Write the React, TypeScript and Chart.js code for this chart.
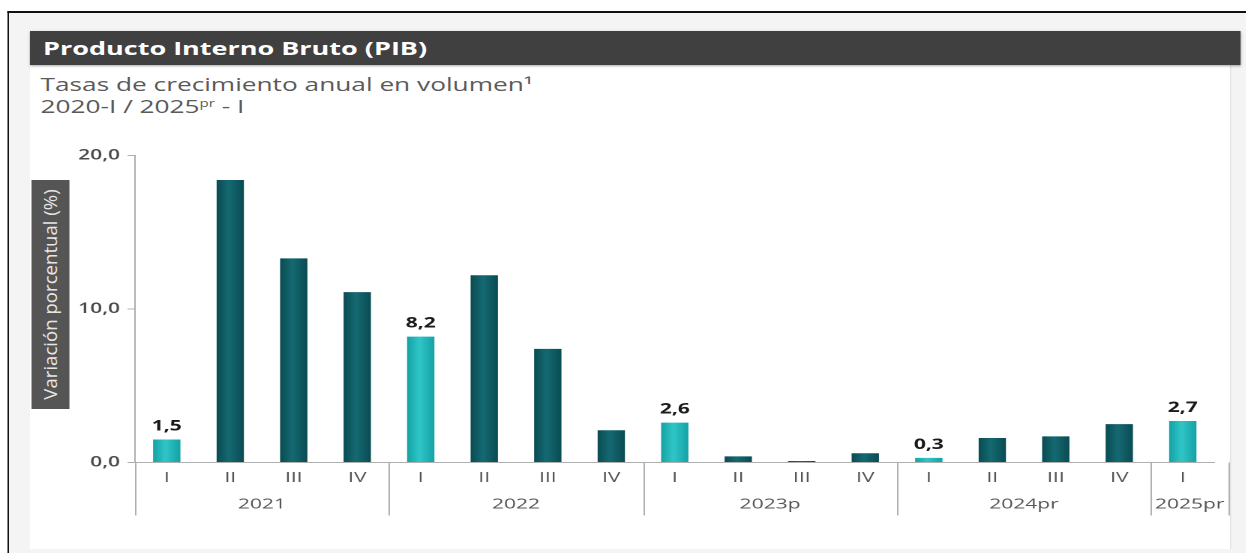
import React, { useEffect, useRef } from "react";
import { Chart, registerables } from "chart.js";

Chart.register(...registerables);

// ---- data ----
const quarters = ["I", "II", "III", "IV", "I", "II", "III", "IV", "I", "II", "III", "IV", "I", "II", "III", "IV", "I"];
const years = ["2021", "2022", "2023p", "2024pr", "2025pr"];
const yearSpans = [4, 4, 4, 4, 1];
const values = [1.5, 18.4, 13.3, 11.1, 8.2, 12.2, 7.4, 2.1, 2.6, 0.4, 0.1, 0.6, 0.3, 1.6, 1.7, 2.5, 2.7];
const labeledIdx = [0, 4, 8, 12, 16];
const yTicks = [0, 10, 20];

const title = "Producto Interno Bruto (PIB)";
const subtitle1 = "Tasas de crecimiento anual en volumen\u00B9";
const yTitle = "Variación porcentual (%)";

// ---- style ----
const S = 1.5; // horizontal stretch of the reference picture
const W = 1246 / S;
const BAR_PCT = 0.43;
const DARK = ["#0a4b52", "#156a72"];
const LIGHT = ["#14a2a5", "#30c6c8"];
const FONT = "'Open Sans', 'Noto Sans', sans-serif";

const fmt = (v: number) => v.toFixed(1).replace(".", ",");

const groupPlugin = {
  id: "groups",
  afterDraw(chart: any) {
    const { ctx, chartArea } = chart;
    const step = (chartArea.right - chartArea.left) / quarters.length;
    const xs: number[] = [];
    let start = 0;
    yearSpans.forEach((n) => {
      xs.push(chartArea.left + start * step);
      start += n;
    });
    xs.push(chart.width - 1);
    ctx.save();
    ctx.strokeStyle = "#b0b0b0";
    ctx.lineWidth = 1;
    xs.forEach((px) => {
      const x = Math.round(px) + 0.5;
      ctx.beginPath();
      ctx.moveTo(x, chartArea.bottom);
      ctx.lineTo(x, chartArea.bottom + 53);
      ctx.stroke();
    });
    ctx.fillStyle = "#555555";
    ctx.font = `14px ${FONT}`;
    ctx.textAlign = "center";
    ctx.textBaseline = "middle";
    years.forEach((y, gi) => ctx.fillText(y, (xs[gi] + xs[gi + 1]) / 2, chartArea.bottom + 42));

    const meta = chart.getDatasetMeta(0);
    ctx.font = `bold 14px ${FONT}`;
    ctx.fillStyle = "#1a1a1a";
    ctx.textBaseline = "bottom";
    labeledIdx.forEach((i) => {
      const el = meta.data[i];
      if (el) ctx.fillText(fmt(values[i]), el.x, el.y - 6);
    });
    ctx.restore();
  },
};

function barFill(context: any) {
  const i = context.dataIndex;
  const pair = labeledIdx.includes(i) ? LIGHT : DARK;
  const chart = context.chart;
  const xs = chart.scales && chart.scales.x;
  const area = chart.chartArea;
  if (!xs || !area || typeof i !== "number") return pair[0];
  const cx = xs.getPixelForValue(i);
  const half = ((area.right - area.left) / quarters.length) * BAR_PCT * 0.5;
  const g = chart.ctx.createLinearGradient(cx - half, 0, cx + half, 0);
  g.addColorStop(0, pair[0]);
  g.addColorStop(0.45, pair[1]);
  g.addColorStop(1, pair[0]);
  return g;
}

function BarChart() {
  const ref = useRef<HTMLCanvasElement | null>(null);
  useEffect(() => {
    if (!ref.current) return;
    const chart = new Chart(ref.current, {
      type: "bar",
      data: {
        labels: quarters,
        datasets: [
          {
            data: values,
            backgroundColor: barFill,
            borderWidth: 0,
            barPercentage: BAR_PCT,
            categoryPercentage: 1,
          },
        ],
      },
      options: {
        animation: false,
        responsive: false,
        devicePixelRatio: 2,
        layout: { padding: { top: 35.5, right: 10.3, bottom: 0, left: 0 } },
        plugins: { legend: { display: false }, tooltip: { enabled: false }, title: { display: false } },
        scales: {
          x: {
            grid: { display: false, drawTicks: false },
            border: { display: true, color: "#b0b0b0", width: 1 },
            ticks: { color: "#555555", font: { family: FONT, size: 14 }, padding: 7, autoSkip: false, maxRotation: 0 },
            afterFit: (s: any) => {
              s.height = 86.5;
            },
          },
          y: {
            min: 0,
            max: 20,
            afterBuildTicks: (s: any) => {
              s.ticks = yTicks.map((v) => ({ value: v }));
            },
            grid: { display: true, drawOnChartArea: false, drawTicks: true, tickLength: 5, color: "#b0b0b0" },
            border: { display: true, color: "#b0b0b0", width: 1 },
            ticks: {
              color: "#4a4a4a",
              font: { family: FONT, size: 14, weight: "600" },
              padding: 5,
              callback: (v: any) => fmt(Number(v)),
            },
            afterFit: (s: any) => {
              s.width = 70;
            },
          },
        },
      },
      plugins: [groupPlugin],
    });
    return () => chart.destroy();
  }, []);
  return <canvas ref={ref} width={800} height={429} style={{ width: 800, height: 429, display: "block" }} />;
}

export default function App() {
  return (
    <div style={{ position: "fixed", left: 0, top: 0, width: 1246, height: 553, overflow: "hidden", background: "#ffffff" }}>
      <div
        style={{
          position: "absolute",
          left: 0,
          top: 0,
          width: W,
          height: 553,
          transform: `scaleX(${S})`,
          transformOrigin: "0 0",
          fontFamily: FONT,
        }}
      >
        {/* outer frame */}
        <div
          style={{
            position: "absolute",
            left: 4.5,
            top: 11,
            width: 900,
            height: 600,
            borderTop: "2px solid #111",
            borderLeft: "1.5px solid #111",
            background: "#f4f4f4",
          }}
        />
        {/* white card */}
        <div style={{ position: "absolute", left: 20, top: 65, width: 800, height: 484, background: "#ffffff", borderRight: "1px solid #e4e4e4" }} />
        {/* title bar */}
        <div
          style={{
            position: "absolute",
            left: 20,
            top: 31,
            width: 806.7,
            height: 34,
            background: "#404040",
            boxShadow: "0 1px 2px rgba(0,0,0,0.35)",
            color: "#ffffff",
            fontWeight: 700,
            fontSize: 18,
            lineHeight: "34px",
            paddingLeft: 8.7,
            boxSizing: "border-box",
            whiteSpace: "nowrap",
          }}
        >
          {title}
        </div>
        {/* subtitle */}
        <div
          style={{
            position: "absolute",
            left: 27,
            top: 73,
            fontSize: 17.5,
            lineHeight: "22px",
            color: "#5a5a5a",
            whiteSpace: "nowrap",
          }}
        >
          <div>{subtitle1}</div>
          <div>
            2020-I / 2025<sup style={{ fontSize: 10, lineHeight: 0, verticalAlign: "6px" }}>pr</sup> - I
          </div>
        </div>
        {/* chart */}
        <div style={{ position: "absolute", left: 20, top: 120, width: 800, height: 429 }}>
          <BarChart />
        </div>
        {/* y axis title box */}
        <div
          style={{
            position: "absolute",
            left: 21.3,
            top: 180,
            width: 24.7,
            height: 229,
            background: "#555555",
            display: "flex",
            alignItems: "center",
            justifyContent: "center",
            overflow: "visible",
          }}
        >
          <span
            style={{
              display: "inline-block",
              whiteSpace: "nowrap",
              fontSize: 12,
              color: "#e6e6e6",
              transform: "rotate(-90deg) scaleX(1.55)",
            }}
          >
            {yTitle}
          </span>
        </div>
      </div>
    </div>
  );
}
